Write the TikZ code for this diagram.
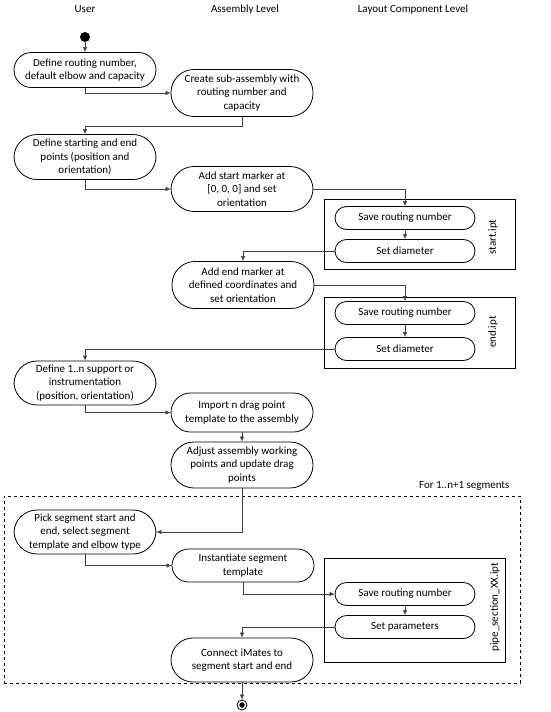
\documentclass[tikz,border=0pt]{standalone}
\usepackage{fontspec}
\setmainfont{Carlito}
\usetikzlibrary{arrows.meta,positioning}
\begin{document}
\begin{tikzpicture}[x=1pt,y=-1pt,
  every node/.style={font=\fontsize{11}{13.3}\selectfont},
  act/.style={draw=black, line width=0.8pt, align=center, minimum width=142pt, inner sep=1pt},
  act2/.style={act, minimum height=35pt, rounded corners=17.5pt},
  act3/.style={act, minimum height=46pt, rounded corners=23pt},
  sact/.style={draw=black, line width=0.8pt, align=center, minimum width=140pt, minimum height=23pt, rounded corners=11.5pt, inner sep=1pt},
  cont/.style={draw=black, line width=0.8pt, inner sep=0pt},
  conn/.style={draw=black!75, line width=0.6pt, -{Latex[length=5pt,width=4.5pt]}},
  hdr/.style={font=\fontsize{11}{13}\selectfont},
  lbl/.style={rotate=90, font=\fontsize{11}{13}\selectfont}
]
\useasboundingbox (0,0) rectangle (550,712);

% headers
\node[hdr] (hU) at (85,9) {User};
\node[hdr] (hA) at (245,10) {Assembly Level};
\node[hdr] (hL) at (413,10) {Layout Component Level};

% containers
\node[cont, minimum width=191pt, minimum height=70pt] (box1) at (419.5,234) {};
\node[cont, minimum width=191pt, minimum height=71pt] (box2) at (419.5,332.5) {};
\node[cont, minimum width=181pt, minimum height=104pt] (box3) at (414.5,610) {};
\node[draw=black, line width=0.8pt, dashed, minimum width=516pt, minimum height=187pt, inner sep=0pt] (loop) at (262,589.5) {};
\node[anchor=east, hdr] (looplbl) at (513,486) {For 1..n+1 segments};
\node[lbl] (l1) at (493,237) {start.ipt};
\node[lbl] (l2) at (493,332) {end.ipt};
\node[lbl] (l3) at (495,607) {pipe\_section\_XX.ipt};

% start
\node[circle, fill=black, minimum size=10pt, inner sep=0pt] (start) at (85,37) {};

% nodes
\node[act2] (n1) at (85,70) {Define routing number,\\default elbow and capacity};
\node[act3, minimum height=47pt] (n2) at (242,93) {Create sub-assembly with\\routing number and\\capacity};
\node[act3, minimum height=45pt] (n3) at (85,157) {Define starting and end\\points (position and\\orientation)};
\node[act3, minimum height=45pt] (n4) at (242,189) {Add start marker at\\{[0, 0, 0]} and set\\orientation};
\node[sact] (s1) at (405,218) {Save routing number};
\node[sact] (d1) at (405,251) {Set diameter};
\node[act3, minimum height=47pt] (n5) at (243,285) {Add end marker at\\defined coordinates and\\set orientation};
\node[sact] (s2) at (405,313) {Save routing number};
\node[sact] (d2) at (405,349) {Set diameter};
\node[act3, minimum height=44pt] (n6) at (85,383) {Define 1..n support or\\instrumentation\\(position, orientation)};
\node[act, minimum height=39pt, rounded corners=19.5pt] (n7) at (242,412.5) {Import n drag point\\template to the assembly};
\node[act3] (n8) at (242,465) {Adjust assembly working\\points and update drag\\points};
\node[act3, minimum height=44pt] (n9) at (85,532) {Pick segment start and\\end, select segment\\template and elbow type};
\node[act, minimum height=33pt, rounded corners=16.5pt] (n10) at (243,565.5) {Instantiate segment\\template};
\node[sact] (s3) at (405,594) {Save routing number};
\node[sact] (p3) at (405,627) {Set parameters};
\node[act, minimum height=44pt, rounded corners=22pt] (n11) at (242,660) {Connect iMates to\\segment start and end};

% end
\node[circle, draw=black, line width=0.8pt, minimum size=10pt, inner sep=0pt] (fin) at (242,705) {};
\node[circle, fill=black, minimum size=5.5pt, inner sep=0pt] (finin) at (fin.center) {};

% connectors
\draw[conn] (start) -- (n1.north);
\draw[conn] (n1.south) |- (n2.west);
\draw[conn] (n2.south) -- ++(0,9) -| (n3.north);
\draw[conn] (n3.south) |- (n4.west);
\draw[conn] (n4.east) -| (s1.north);
\draw[conn] (s1) -- (d1);
\draw[conn] (d1.west) -| (n5.north);
\draw[conn] (n5.east) -| (s2.north);
\draw[conn] (s2) -- (d2);
\draw[conn] (d2.west) -| (n6.north);
\draw[conn] (n6.south) |- (n7.west);
\draw[conn] (n7) -- (n8);
\draw[conn] (n8.south) |- (n9.east);
\draw[conn] (n9.south) |- (n10.west);
\draw[conn] (n10.south) |- (s3.west);
\draw[conn] (s3) -- (p3);
\draw[conn] (p3.west) -| (n11.north);
\draw[conn] (n11) -- (fin);
\end{tikzpicture}
\end{document}
